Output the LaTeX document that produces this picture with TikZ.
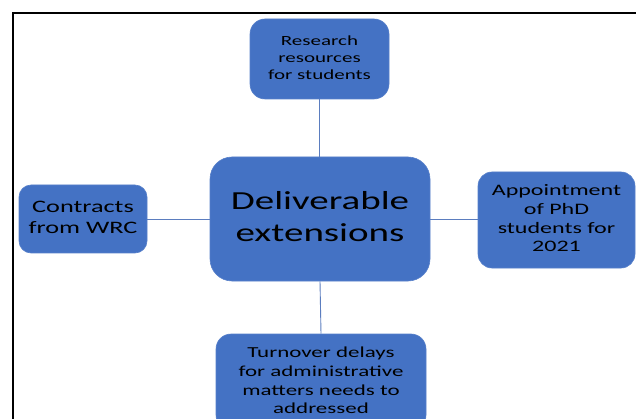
\documentclass[tikz,border=0pt]{standalone}
\usepackage{fontspec}
\usepackage{graphicx}
\setmainfont{Carlito}
\definecolor{boxblue}{HTML}{4472C4}
\definecolor{linkblue}{HTML}{5B7DBF}
\newcommand{\wtext}[1]{\scalebox{1.5}[1]{\begin{tabular}{@{}c@{}}#1\end{tabular}}}
\begin{document}
\begin{tikzpicture}[x=1pt,y=-1pt,
  blk/.style={fill=boxblue,draw=boxblue!90!white,line width=0.6pt,rounded corners=#1,align=center,inner sep=0pt,text=black},
  blk/.default=14pt,
  link/.style={draw=linkblue,line width=0.9pt}]
\useasboundingbox (0,0) rectangle (636,419);
\fill[white] (0,0) rectangle (636,419);
\draw[line width=2.2pt] (13,440) -- (13,13) -- (660,13);
\node[blk=15pt,minimum width=139pt,minimum height=80pt,font=\fontsize{14}{17}\selectfont] (top) at (319.5,59) {\wtext{Research\\resources\\for students}};
\node[blk=22pt,minimum width=220pt,minimum height=124pt,font=\fontsize{26}{31.5}\selectfont] (mid) at (320,219) {\wtext{Deliverable\\extensions}};
\node[blk=12pt,minimum width=128pt,minimum height=68pt,font=\fontsize{17.5}{20.5}\selectfont] (left) at (83,219) {\wtext{Contracts\\from WRC}};
\node[blk=14pt,minimum width=157pt,minimum height=96pt,font=\fontsize{16}{18.7}\selectfont] (right) at (556.5,220) {\wtext{Appointment\\of PhD\\students for\\2021}};
\node[blk=15pt,minimum width=210pt,minimum height=96pt,font=\fontsize{15.3}{18.7}\selectfont] (bot) at (321,382) {\wtext{Turnover delays\\for administrative\\matters needs to\\addressed}};
\draw[link] (top.south) -- (mid.north -| top.south);
\draw[link] (left.east) -- (mid.west);
\draw[link] (mid.east) -- (right.west |- mid.east);
\draw[link] (mid.south) -- (bot.north);
\end{tikzpicture}
\end{document}
